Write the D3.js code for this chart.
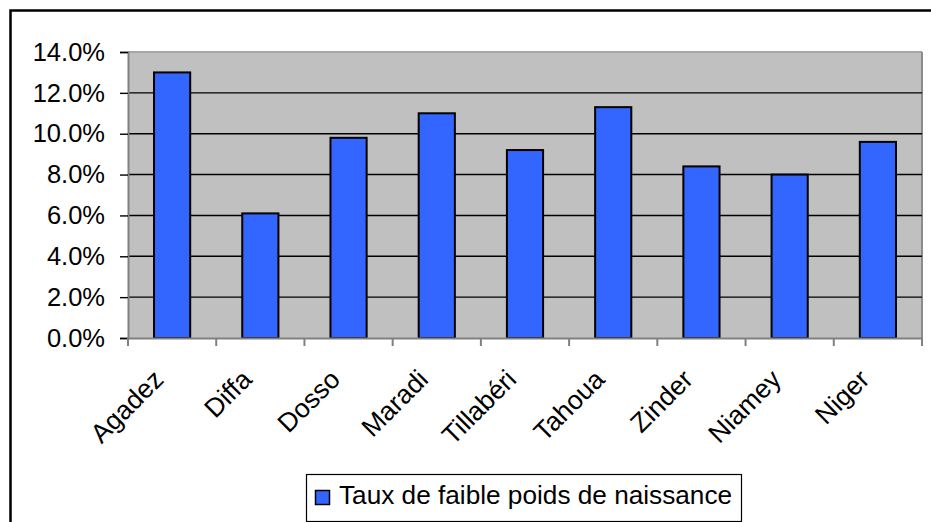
<!DOCTYPE html>
<html>
<head>
<meta charset="utf-8">
<script src="https://cdn.jsdelivr.net/npm/d3@7"></script>
<style>
  body { margin: 0; background: #fff; }
  svg { display: block; font-family: Arial, "Liberation Sans", sans-serif; }
</style>
</head>
<body>
<svg id="chart" width="931" height="522"></svg>
<script>
const regions = ['Agadez', 'Diffa', 'Dosso', 'Maradi', 'Tillabéri', 'Tahoua', 'Zinder', 'Niamey', 'Niger'];
const lowBirthWeight = [0.130, 0.061, 0.098, 0.110, 0.092, 0.113, 0.084, 0.080, 0.096];
const yTicks = [0, 0.02, 0.04, 0.06, 0.08, 0.10, 0.12, 0.14];
const seriesName = 'Taux de faible poids de naissance';

const svg = d3.select('#chart');
const plotLeft = 128, plotRight = 922, plotTop = 52, plotBottom = 338;

// outer chart border (right and bottom edges fall outside the picture)
svg.append('rect')
  .attr('x', 10.5).attr('y', 10.5)
  .attr('width', 940).attr('height', 540)
  .attr('fill', 'none').attr('stroke', '#000').attr('stroke-width', 2.5);

const x = d3.scaleBand().domain(regions).range([plotLeft, plotRight]).paddingInner(0.59).paddingOuter(0.295);
const xTicksScale = d3.scaleBand().domain(regions).range([plotLeft, plotRight]);
const y = d3.scaleLinear().domain([0, 0.14]).range([plotBottom, plotTop]);

// plot area
svg.append('rect')
  .attr('x', plotLeft).attr('y', plotTop)
  .attr('width', plotRight - plotLeft).attr('height', plotBottom - plotTop)
  .attr('fill', '#c0c0c0');

svg.append('line')
  .attr('x1', plotLeft).attr('x2', plotRight).attr('y1', plotTop).attr('y2', plotTop)
  .attr('stroke', '#a6a6a6').attr('stroke-width', 2);
svg.append('line')
  .attr('x1', plotRight).attr('x2', plotRight).attr('y1', plotTop).attr('y2', plotBottom)
  .attr('stroke', '#8c8c8c').attr('stroke-width', 2);

// gridlines
svg.append('g')
  .selectAll('line')
  .data(yTicks.filter(d => d > 0 && d < 0.14))
  .join('line')
  .attr('x1', plotLeft).attr('x2', plotRight)
  .attr('y1', d => y(d)).attr('y2', d => y(d))
  .attr('stroke', '#000').attr('stroke-width', 1.4);

// bars
svg.append('g')
  .selectAll('rect')
  .data(lowBirthWeight)
  .join('rect')
  .attr('x', (d, i) => x(regions[i]))
  .attr('y', d => y(d))
  .attr('width', x.bandwidth())
  .attr('height', d => plotBottom - y(d))
  .attr('fill', '#3366ff')
  .attr('stroke', '#000').attr('stroke-width', 2);

// y axis
const yAxis = svg.append('g')
  .attr('transform', `translate(${plotLeft},0)`)
  .call(d3.axisLeft(y).tickValues(yTicks).tickFormat(d3.format('.1%')).tickSize(8).tickPadding(15));
yAxis.select('.domain').attr('stroke', '#808080').attr('stroke-width', 2);
yAxis.selectAll('.tick line').attr('stroke', '#000').attr('stroke-width', 1.4);
yAxis.selectAll('.tick text').attr('font-size', 25.5).attr('fill', '#000')
  .attr('font-family', 'Arial, "Liberation Sans", sans-serif');

// x axis
const xAxis = svg.append('g')
  .attr('transform', `translate(0,${plotBottom})`)
  .call(d3.axisBottom(xTicksScale).tickSize(0).tickFormat(''));
xAxis.select('.domain').attr('stroke', '#808080').attr('stroke-width', 2);
xAxis.selectAll('.tick').remove();

xAxis.append('g')
  .selectAll('line')
  .data(regions.concat(['end']))
  .join('line')
  .attr('x1', (d, i) => plotLeft + i * xTicksScale.step())
  .attr('x2', (d, i) => plotLeft + i * xTicksScale.step())
  .attr('y1', 0).attr('y2', 8)
  .attr('stroke', '#808080').attr('stroke-width', 2);

xAxis.append('g')
  .selectAll('text')
  .data(regions)
  .join('text')
  .attr('transform', d => `translate(${xTicksScale(d) + xTicksScale.bandwidth() / 2 - 7},43) rotate(-45)`)
  .attr('text-anchor', 'end')
  .attr('font-size', 26.5)
  .attr('fill', '#000')
  .text(d => d);

// legend
const legend = svg.append('g');
legend.append('rect')
  .attr('x', 306.5).attr('y', 474.5).attr('width', 435).attr('height', 47)
  .attr('fill', '#fff').attr('stroke', '#000').attr('stroke-width', 1.2);
legend.append('rect')
  .attr('x', 315.5).attr('y', 490.5).attr('width', 14).attr('height', 14)
  .attr('fill', '#3366ff').attr('stroke', '#000').attr('stroke-width', 1.5);
legend.append('text')
  .attr('x', 339).attr('y', 504)
  .attr('font-size', 26.2).attr('fill', '#000')
  .text(seriesName);
</script>
</body>
</html>
